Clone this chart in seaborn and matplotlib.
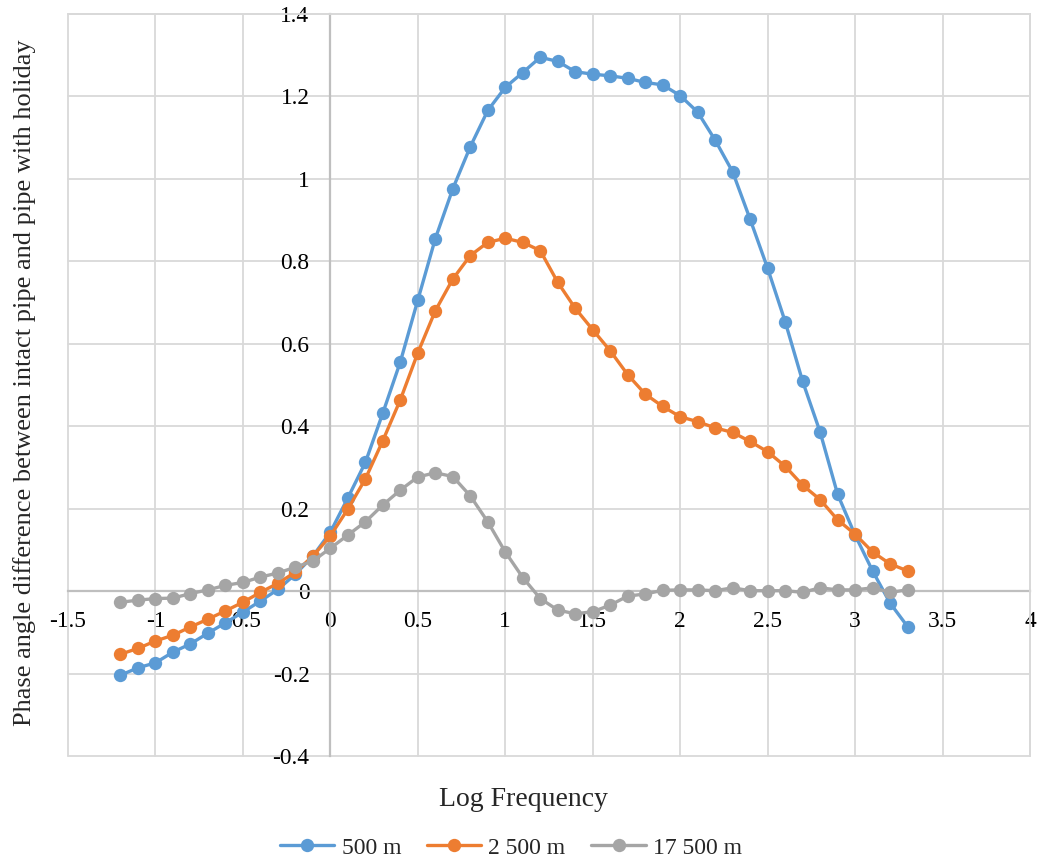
import numpy as np
import pandas as pd
import matplotlib
matplotlib.use("Agg")
import matplotlib.pyplot as plt
import seaborn as sns

# Log frequency grid shared by all three series
log_freq = [-1.2, -1.1, -1.0, -0.9, -0.8, -0.7, -0.6, -0.5, -0.4, -0.3, -0.2, -0.1,
            0.0, 0.1, 0.2, 0.3, 0.4, 0.5, 0.6, 0.7, 0.8, 0.9,
            1.0, 1.1, 1.2, 1.3, 1.4, 1.5, 1.6, 1.7, 1.8, 1.9,
            2.0, 2.1, 2.2, 2.3, 2.4, 2.5, 2.6, 2.7, 2.8, 2.9,
            3.0, 3.1, 3.2, 3.3]

phase_500m = [-0.204, -0.186, -0.174, -0.148, -0.128, -0.102, -0.077, -0.051, -0.024, 0.004, 0.041, 0.085,
              0.143, 0.226, 0.312, 0.432, 0.556, 0.706, 0.855, 0.976, 1.078, 1.166,
              1.222, 1.258, 1.295, 1.285, 1.260, 1.254, 1.250, 1.244, 1.234, 1.228,
              1.202, 1.162, 1.094, 1.017, 0.902, 0.783, 0.654, 0.509, 0.386, 0.235,
              0.136, 0.049, -0.029, -0.086]

phase_2500m = [-0.153, -0.139, -0.121, -0.107, -0.087, -0.068, -0.048, -0.027, -0.003, 0.019, 0.046, 0.085,
               0.134, 0.199, 0.272, 0.365, 0.464, 0.578, 0.680, 0.757, 0.814, 0.846,
               0.856, 0.846, 0.826, 0.749, 0.686, 0.634, 0.583, 0.525, 0.478, 0.448,
               0.423, 0.411, 0.396, 0.385, 0.363, 0.338, 0.303, 0.257, 0.222, 0.173,
               0.138, 0.095, 0.066, 0.049]

phase_17500m = [-0.027, -0.022, -0.018, -0.017, -0.006, 0.003, 0.014, 0.021, 0.034, 0.044, 0.058, 0.073,
                0.104, 0.136, 0.168, 0.209, 0.245, 0.277, 0.287, 0.278, 0.231, 0.168,
                0.095, 0.033, -0.018, -0.046, -0.055, -0.050, -0.034, -0.012, -0.007, 0.002,
                0.003, 0.003, 0.001, 0.008, 0.001, 0.001, 0.001, -0.003, 0.008, 0.003,
                0.003, 0.008, -0.003, 0.003]

series_names = ["500 m", "2 500 m", "17 500 m"]
series_colors = ["#5B9BD5", "#ED7D31", "#A5A5A5"]

x_ticks = [-1.5, -1, -0.5, 0, 0.5, 1, 1.5, 2, 2.5, 3, 3.5, 4]
y_ticks = [-0.4, -0.2, 0, 0.2, 0.4, 0.6, 0.8, 1, 1.2, 1.4]

df = pd.concat([
    pd.DataFrame({"log_freq": log_freq, "phase": vals, "series": name})
    for name, vals in zip(series_names, [phase_500m, phase_2500m, phase_17500m])
], ignore_index=True)

sns.set_style("white")
plt.rcParams["font.family"] = ["Liberation Serif", "DejaVu Serif"]

fig = plt.figure(figsize=(10.41, 8.65), dpi=100)
ax = fig.add_axes([68 / 1041, 1 - 756 / 865, (1030 - 68) / 1041, (756 - 14) / 865])

sns.lineplot(data=df, x="log_freq", y="phase", hue="series", hue_order=series_names,
             palette=series_colors, marker="o", markersize=9.6, markeredgewidth=0,
             linewidth=2.4, legend=False, ax=ax, zorder=3)

series_lines = list(ax.lines[:3])

ax.set_xlim(-1.5, 4)
ax.set_ylim(-0.4, 1.4)
ax.set_xticks(x_ticks)
ax.set_yticks(y_ticks)
ax.set_xticklabels([f"{t:g}" for t in x_ticks])
ax.set_yticklabels([f"{t:g}" for t in y_ticks])

# Excel-style axes crossing at the origin
for side in ["top", "right"]:
    ax.spines[side].set_color("#D9D9D9")
    ax.spines[side].set_linewidth(1.3)
ax.spines["left"].set_position(("data", 0))
ax.spines["bottom"].set_position(("data", 0))
for side in ["left", "bottom"]:
    ax.spines[side].set_color("#BFBFBF")
    ax.spines[side].set_linewidth(1.6)
    ax.spines[side].set_zorder(2)

ax.grid(True, color="#D9D9D9", linewidth=1.3)
ax.set_axisbelow(True)
for gl in ax.get_xgridlines() + ax.get_ygridlines():
    gl.set_clip_on(False)

ax.tick_params(axis="both", length=0, labelsize=16.8, colors="black")
ax.tick_params(axis="y", pad=15)
ax.tick_params(axis="x", pad=14)

ax.set_xlabel("")
ax.set_ylabel("")
fig.text(523 / 1041, 1 - 800 / 865, "Log Frequency", ha="center", va="center", fontsize=20)
fig.text(25 / 1041, 1 - 383 / 865,
         "Phase angle difference between intact pipe and pipe with holiday",
         ha="center", va="center", rotation=90, fontsize=19)

fig.legend(series_lines, series_names, loc="center", bbox_to_anchor=(511 / 1041, 1 - 848 / 865),
           ncol=3, frameon=False, fontsize=17, handlelength=2.3, handletextpad=0.3,
           columnspacing=1.1)

fig.savefig("out.png", dpi=100, facecolor="white")
